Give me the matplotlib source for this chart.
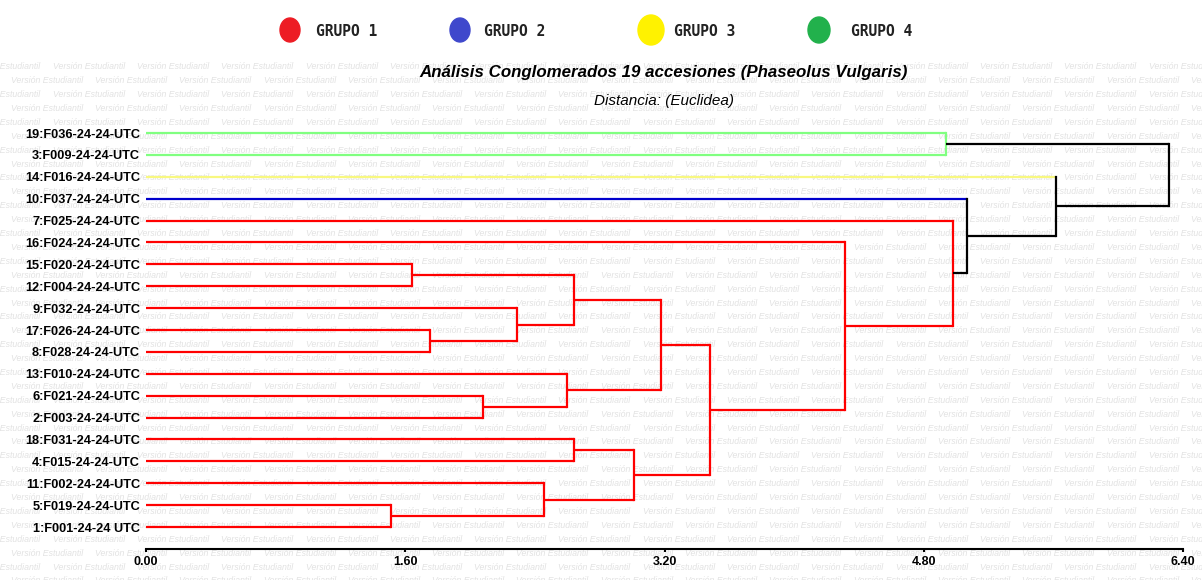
import matplotlib
matplotlib.use("Agg")
import matplotlib.pyplot as plt
from matplotlib.patches import Ellipse

W, H = 1202, 580

LABELS = ["19:F036-24-24-UTC", "3:F009-24-24-UTC", "14:F016-24-24-UTC",
          "10:F037-24-24-UTC", "7:F025-24-24-UTC", "16:F024-24-24-UTC",
          "15:F020-24-24-UTC", "12:F004-24-24-UTC", "9:F032-24-24-UTC",
          "17:F026-24-24-UTC", "8:F028-24-24-UTC", "13:F010-24-24-UTC",
          "6:F021-24-24-UTC", "2:F003-24-24-UTC", "18:F031-24-24-UTC",
          "4:F015-24-24-UTC", "11:F002-24-24-UTC", "5:F019-24-24-UTC",
          "1:F001-24-24 UTC"]

# leaf group colour (by row, top to bottom)
LEAF_COLORS = ["#80ff80", "#80ff80", "#f8f880", "#0000cc"] + ["#ff0000"] * 15

# merges: (child a, child b, distance); leaves are 0..18, new clusters 19..
MERGE_A = [6, 9, 8, 19, 12, 11, 22, 17, 16, 14, 28, 25, 5, 4, 3, 2, 0, 35]
MERGE_B = [7, 10, 20, 21, 13, 23, 24, 18, 26, 15, 27, 29, 30, 31, 32, 33, 1, 34]
MERGE_D = [1.642, 1.753, 2.288, 2.641, 2.077, 2.596, 3.177, 1.510, 2.456,
           2.643, 3.014, 3.481, 4.314, 4.979, 5.067, 5.616, 4.937, 6.316]
MERGE_COLORS = ["#ff0000"] * 14 + ["black", "black", "#80ff80", "black"]

GROUPS = ["GRUPO 1", "GRUPO 2", "GRUPO 3", "GRUPO 4"]
GROUP_COLORS = ["#ed1c24", "#3f48cc", "#fff200", "#22b14c"]

XTICKS = [0.0, 1.6, 3.2, 4.8, 6.4]

fig = plt.figure(figsize=(W / 100, H / 100), dpi=100)
fig.patch.set_facecolor("white")

# watermark
wm_y = 66.7
row = 0
while wm_y < H + 10:
    x0 = 52.7 - 84.3 if row % 2 == 0 else 10.7
    x = x0
    while x < W:
        fig.text(x / W, 1 - wm_y / H, "Versión Estudiantil", fontsize=6.3,
                 style="italic", color="#e2e2e2", family="Liberation Sans",
                 ha="left", va="center", zorder=-5)
        x += 84.3
    wm_y += 13.9
    row += 1

# axes placed so that rows sit at the reference pixel rows
row0, step = 133.0, 21.89
ax_top, ax_bot = 120.0, 549.0
ax_left, ax_right = 146.0, 1183.0
ax = fig.add_axes([ax_left / W, 1 - ax_bot / H, (ax_right - ax_left) / W,
                   (ax_bot - ax_top) / H])
ax.patch.set_alpha(0)
ax.set_xlim(0, 6.4)
ax.set_ylim((ax_bot - row0) / step, (ax_top - row0) / step)

n = len(LABELS)
pos = {i: float(i) for i in range(n)}
height = {i: 0.0 for i in range(n)}
lw = 1.6
for k, (a, b, d) in enumerate(zip(MERGE_A, MERGE_B, MERGE_D)):
    c = MERGE_COLORS[k]
    for ch in (a, b):
        arm = LEAF_COLORS[ch] if ch < n else c
        ax.plot([height[ch], d], [pos[ch], pos[ch]], color=arm, lw=lw,
                solid_capstyle="butt")
    ax.plot([d, d], [pos[a], pos[b]], color=c, lw=lw, solid_capstyle="projecting")
    new = n + k
    pos[new] = (pos[a] + pos[b]) / 2
    height[new] = d

ax.set_yticks(range(n))
ax.set_yticklabels(LABELS, fontsize=9.2, fontweight="bold", family="Liberation Sans")
ax.tick_params(axis="y", length=0, pad=4.3)
ax.set_xticks(XTICKS)
ax.set_xticklabels(["%.2f" % t for t in XTICKS], fontsize=9, fontweight="bold",
                   family="Liberation Sans")
ax.tick_params(axis="x", direction="out", length=2.5, width=1.5, pad=2.5)
for s in ["left", "right", "top"]:
    ax.spines[s].set_visible(False)
ax.spines["bottom"].set_linewidth(1.5)

fig.text(664 / W, 1 - 73 / H,
         "Análisis Conglomerados 19 accesiones (Phaseolus Vulgaris)",
         ha="center", va="center", fontsize=12.2, fontweight="bold",
         style="italic", family="Liberation Sans")
fig.text(664 / W, 1 - 101 / H, "Distancia: (Euclidea)", ha="center",
         va="center", fontsize=11, style="italic", family="Liberation Sans")

# legend strip
lg_x = [290, 460, 651, 819]
lg_w = [20, 20, 26, 22]
lg_h = [24, 24, 30, 26]
tx_x = [316, 484, 674, 851]
for g, col, x, w, h, tx in zip(GROUPS, GROUP_COLORS, lg_x, lg_w, lg_h, tx_x):
    fig.add_artist(Ellipse((x / W, 1 - 30 / H), w / W, h / H, color=col,
                           transform=fig.transFigure))
    fig.text(tx / W, 1 - 31 / H, g, ha="left", va="center", fontsize=10.5,
             family="DejaVu Sans Mono", fontweight="bold", color="#222222")

fig.savefig("out.png", dpi=100)
